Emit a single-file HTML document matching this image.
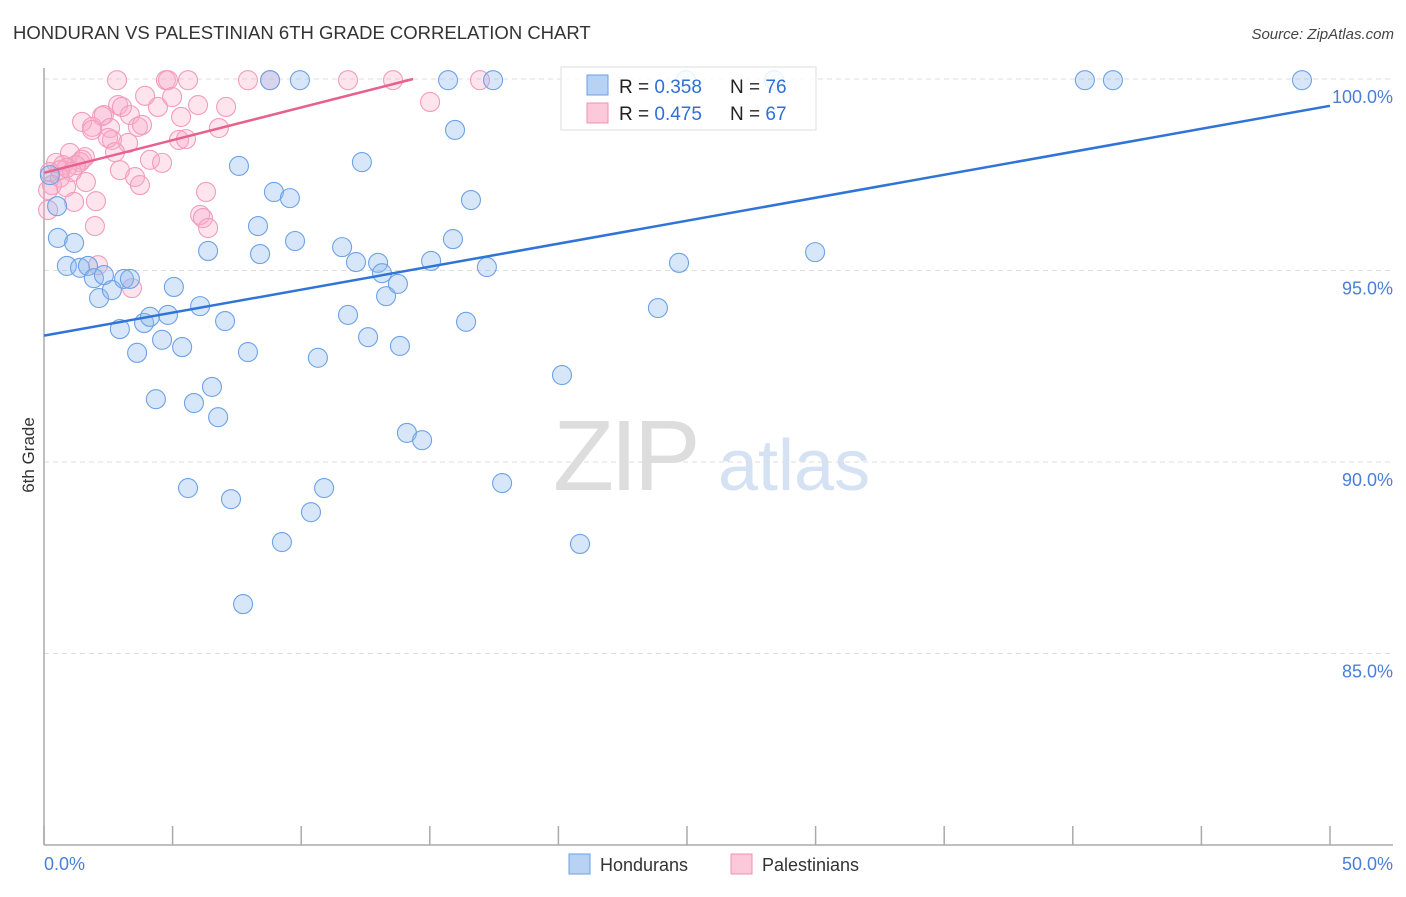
<!DOCTYPE html>
<html><head><meta charset="utf-8"><style>
body{margin:0;background:#fff;font-family:"Liberation Sans",sans-serif}
svg text{font-family:"Liberation Sans",sans-serif}
</style></head><body>
<svg id="chart" width="1406" height="892" xmlns="http://www.w3.org/2000/svg">
<text x="13" y="39" font-size="18.5" fill="#333">HONDURAN VS PALESTINIAN 6TH GRADE CORRELATION CHART</text>
<text x="1394" y="39" font-size="15" fill="#444" font-style="italic" text-anchor="end">Source: ZipAtlas.com</text>
<g>
<text x="553" y="490" font-size="100" fill="#ddd" font-family="Liberation Serif" letter-spacing="-4">ZIP</text>
<text x="718" y="490" font-size="72" fill="#d4e2f4">atlas</text></g>
<g id="grid"></g>
<line x1="44" y1="68" x2="44" y2="845" stroke="#aaa" stroke-width="1.5"/>
<line x1="44" y1="845" x2="1393" y2="845" stroke="#aaa" stroke-width="1.5"/>
<g id="ticks"></g>
<text transform="translate(34,455) rotate(-90)" font-size="17" fill="#333" text-anchor="middle">6th Grade</text>
<text x="44" y="870" font-size="18" fill="#4a7fd8">0.0%</text>
<text x="1393" y="870" font-size="18" fill="#4a7fd8" text-anchor="end">50.0%</text>
<g id="pts"></g>
<g id="lines"></g>
<g>
<rect x="561" y="67" width="255" height="63" fill="#fff" fill-opacity="0.85" stroke="#ddd"/>
<rect x="587" y="75" width="21" height="20" fill="#b8d2f3" stroke="#6a9fe0"/>
<rect x="587" y="103" width="21" height="20" fill="#fbc9d9" stroke="#f090b0"/>
<text x="619" y="93" font-size="19" fill="#222">R = <tspan fill="#2f6fd6">0.358</tspan></text>
<text x="730" y="93" font-size="19" fill="#222">N = <tspan fill="#2f6fd6">76</tspan></text>
<text x="619" y="120" font-size="19" fill="#222">R = <tspan fill="#2f6fd6">0.475</tspan></text>
<text x="730" y="120" font-size="19" fill="#222">N = <tspan fill="#2f6fd6">67</tspan></text>
</g>
<g>
<rect x="569" y="854" width="21" height="20" fill="#b8d2f3" stroke="#6a9fe0"/>
<text x="600" y="871" font-size="18" fill="#333">Hondurans</text>
<rect x="731" y="854" width="21" height="20" fill="#fbc9d9" stroke="#f090b0"/>
<text x="762" y="871" font-size="18" fill="#333">Palestinians</text>
</g>
</svg>
<script>
const yTicks=[100,95,90,85];
const yTickLabels=["100.0%","95.0%","90.0%","85.0%"];
const xTicks=[0,5,10,15,20,25,30,35,40,45,50];
const blueX=[0.54,1.17,0.89,1.40,1.71,1.94,2.33,2.14,2.64,3.11,3.34,2.95,3.62,3.89,4.12,4.59,4.82,5.05,5.37,4.35,6.07,6.38,6.53,5.83,6.77,7.04,7.58,7.93,8.32,8.40,8.79,8.94,9.56,9.76,9.95,10.65,11.59,11.82,12.13,12.36,12.60,12.99,13.14,13.30,13.76,13.84,14.11,14.70,15.05,15.71,15.90,15.98,16.41,16.60,17.22,17.46,17.81,20.14,20.84,23.87,24.69,29.98,40.47,41.56,48.91,5.60,7.27,9.25,10.38,10.89,7.74,0.51,0.23,24.96,28.38];
const blueY=[95.85,95.72,95.12,95.07,95.12,94.80,94.88,94.28,94.49,94.78,94.78,93.47,92.85,93.63,93.79,93.19,93.84,94.57,93.00,91.64,94.07,95.51,91.96,91.54,91.17,93.68,97.73,92.87,96.16,95.43,99.97,97.05,96.89,95.77,99.97,92.72,95.61,93.84,95.22,97.83,93.26,95.20,94.93,94.33,94.65,93.03,90.76,90.57,95.25,99.97,95.82,98.67,93.66,96.84,95.09,99.97,89.45,92.27,87.86,94.02,95.20,95.48,99.97,99.97,99.97,89.32,89.03,87.91,88.69,89.32,86.29,96.68,97.49,99.97,99.97];
const pinkX=[2.84,4.74,4.82,5.60,7.93,8.79,11.82,13.57,16.95,15.01,3.93,4.98,5.99,2.88,3.03,4.43,7.08,2.33,2.26,3.34,5.33,1.48,1.87,1.87,2.57,3.65,3.81,6.80,5.25,5.52,2.64,2.49,3.27,2.76,1.01,1.59,1.40,0.47,1.48,0.74,1.24,4.12,4.59,0.89,0.62,1.09,0.23,0.62,0.31,3.54,3.73,0.86,0.16,1.17,2.02,6.30,6.07,6.18,6.38,1.98,0.16,2.10,3.42,2.95,1.63];
const pinkY=[99.97,99.97,99.97,99.97,99.97,99.97,99.97,99.97,99.97,99.40,99.56,99.53,99.32,99.32,99.27,99.27,99.27,99.06,99.03,99.06,99.01,98.88,98.75,98.67,98.72,98.75,98.80,98.72,98.41,98.43,98.41,98.46,98.33,98.09,98.07,97.96,97.83,97.81,97.89,97.75,97.75,97.89,97.81,97.68,97.62,97.57,97.57,97.42,97.23,97.44,97.23,97.18,97.10,96.79,96.81,97.05,96.45,96.37,96.11,96.16,96.58,95.14,94.54,97.62,97.31];
const blueTrend=[[0,93.3],[50,99.3]];
const pinkTrend=[[0,97.55],[14.35,100]];
const X=v=>44+v*25.72, Y=v=>79+(100-v)*38.3;
const NS="http://www.w3.org/2000/svg";
function mk(t,a,p){const e=document.createElementNS(NS,t);for(const k in a)e.setAttribute(k,a[k]);p.appendChild(e);return e;}
const grid=document.getElementById('grid'),ticks=document.getElementById('ticks'),pts=document.getElementById('pts'),lines=document.getElementById('lines');
yTicks.forEach((v,i)=>{
 const l=mk('line',{x1:44,x2:1393,y1:Y(v),y2:Y(v),stroke:'#ddd','stroke-dasharray':'5,4'},grid);
 
 
 const t=mk('text',{x:1393,y:Y(v)+24,'font-size':18,fill:'#4a7fd8','text-anchor':'end'},grid);
 t.textContent=yTickLabels[i];
 
 
});
xTicks.forEach(v=>{
 const l=mk('line',{x1:X(v),x2:X(v),y1:826,y2:845,stroke:'#aaa','stroke-width':1.5},ticks);
 
 
});
function dots(xs,ys,fill,stroke,name){xs.forEach((x,i)=>{
 const c=mk('circle',{cx:X(x),cy:Y(ys[i]),r:9.5,fill:fill,stroke:stroke,'stroke-width':1.1},pts);
 
 
});}
dots(pinkX,pinkY,'rgba(248,170,198,0.32)','#f29cbb','palestinian-point');
dots(blueX,blueY,'rgba(140,186,238,0.35)','#6da2e6','honduran-point');
function trend(tr,col,name){
 const l=mk('line',{x1:X(tr[0][0]),y1:Y(tr[0][1]),x2:X(tr[1][0]),y2:Y(tr[1][1]),stroke:col,'stroke-width':2.5},lines);
 
 
}
trend(blueTrend,'#2f74d6','honduran-trendline');
trend(pinkTrend,'#e8608c','palestinian-trendline');
</script>
</body></html>
